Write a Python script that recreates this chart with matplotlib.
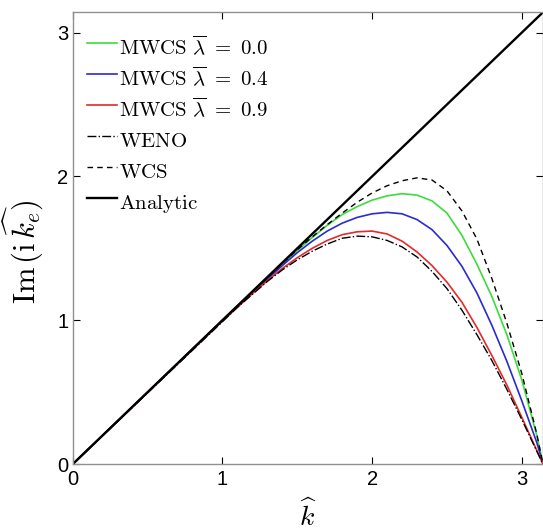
import numpy as np
import matplotlib
matplotlib.use("Agg")
import matplotlib.pyplot as plt

plt.rcParams['mathtext.fontset'] = 'cm'
plt.rcParams['font.family'] = ['Liberation Sans', 'DejaVu Sans']

# values
k_hat = [0, 1.0, 1.1, 1.2, 1.3, 1.4, 1.5, 1.6, 1.7, 1.8, 1.9, 2.0, 2.1, 2.2,
         2.3, 2.4, 2.5, 2.6, 2.7, 2.8, 2.9, 3.0, 3.1, np.pi]
mwcs_00 = [0, 1.0, 1.1, 1.195, 1.29, 1.39, 1.485, 1.575, 1.66, 1.735, 1.79, 1.835, 1.865, 1.88,
           1.87, 1.83, 1.745, 1.59, 1.39, 1.165, 0.90, 0.585, 0.20, 0]
mwcs_04 = [0, 1.0, 1.095, 1.19, 1.285, 1.38, 1.47, 1.55, 1.62, 1.675, 1.715, 1.74, 1.75, 1.74,
           1.70, 1.63, 1.52, 1.375, 1.19, 0.965, 0.715, 0.44, 0.15, 0]
mwcs_09 = [0, 0.995, 1.09, 1.185, 1.275, 1.36, 1.435, 1.50, 1.555, 1.595, 1.615, 1.62, 1.60, 1.55,
           1.475, 1.38, 1.265, 1.125, 0.95, 0.755, 0.55, 0.325, 0.095, 0]
weno = [0, 0.99, 1.09, 1.18, 1.27, 1.35, 1.42, 1.48, 1.53, 1.57, 1.585, 1.58, 1.555, 1.51,
        1.44, 1.34, 1.22, 1.07, 0.90, 0.72, 0.52, 0.31, 0.09, 0]
wcs = [0, 1.0, 1.1, 1.2, 1.295, 1.395, 1.49, 1.58, 1.665, 1.745, 1.82, 1.885, 1.935, 1.97,
       1.99, 1.975, 1.90, 1.76, 1.565, 1.29, 0.98, 0.63, 0.21, 0]
analytic_x = [0, np.pi]
analytic_y = [0, np.pi]

fig = plt.figure(figsize=(5.43, 5.31), dpi=100)
ax = fig.add_axes([0.134, 0.126, 0.866, 0.851])

ax.plot(k_hat, mwcs_00, color='#3cdc3c', lw=1.2, label=r'$\mathrm{MWCS}\ \overline{\lambda}\ =\ 0.0$')
ax.plot(k_hat, mwcs_04, color='#2a2ad2', lw=1.2, label=r'$\mathrm{MWCS}\ \overline{\lambda}\ =\ 0.4$')
ax.plot(k_hat, mwcs_09, color='#e42a2a', lw=1.2, label=r'$\mathrm{MWCS}\ \overline{\lambda}\ =\ 0.9$')
ax.plot(k_hat, weno, color='black', lw=1.0, ls='-.', label=r'$\mathrm{WENO}$')
ax.plot(k_hat, wcs, color='black', lw=1.0, ls=(0, (4, 3)), label=r'$\mathrm{WCS}$')
ax.plot(analytic_x, analytic_y, color='black', lw=1.7, label=r'$\mathrm{Analytic}$')

ax.set_xlim(0, np.pi)
ax.set_ylim(0, np.pi)
ax.set_xticks([0, 1, 2, 3])
ax.set_yticks([0, 1, 2, 3])
ax.tick_params(direction='in', length=5, width=0.8, top=True, right=True, labelsize=14.5)
ax.tick_params(axis='x', pad=4)
ax.tick_params(axis='y', pad=3)
for s in ax.spines.values():
    s.set_color('#909090')
    s.set_linewidth(1.0)

ax.set_xlabel(r'$\widehat{k}$', fontsize=20, labelpad=8)
ax.set_ylabel(r'$\mathrm{Im}\,(\mathrm{i}\,\widehat{k_e})$', fontsize=22)
ax.yaxis.set_label_coords(-0.06, 0.47)

leg = ax.legend(loc='upper left', frameon=False, fontsize=15, handlelength=1.45,
                handleheight=1.8, handletextpad=0.1, labelspacing=0.07,
                borderaxespad=0.0, borderpad=0.0,
                bbox_to_anchor=(0.03, 0.955))

fig.savefig('out.png', dpi=100)
